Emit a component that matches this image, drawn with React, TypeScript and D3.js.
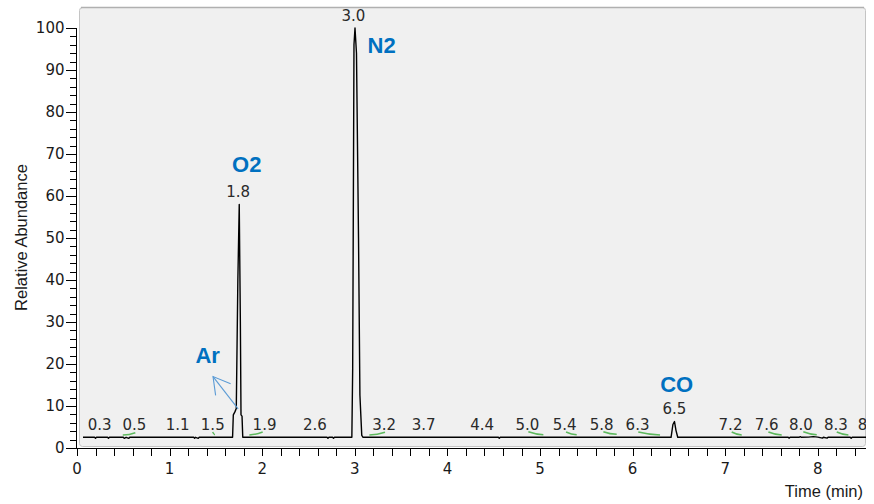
import React from 'react';
import * as d3 from 'd3';

// ---- data ----
const traceTimes = [
  0.065, 0.19, 0.2, 0.21, 0.33, 0.34, 0.35, 0.5, 0.51, 0.53, 0.56, 0.57,
  1.26, 1.27, 1.28, 1.31, 1.32,
  1.68, 1.688, 1.705, 1.72, 1.737, 1.752, 1.764, 1.771, 1.782, 1.79,
  2.7, 2.71, 2.72, 2.76, 2.77, 2.78,
  2.968, 2.977, 2.991, 3.002, 3.018, 3.04, 3.055, 3.075, 3.089,
  4.55, 4.56, 4.57,
  6.415, 6.435, 6.452, 6.468, 6.487,
  7.68, 7.69, 7.7, 7.8, 7.81, 7.82, 7.9, 7.95, 8.0, 8.05, 8.06, 8.1, 8.11,
  8.35, 8.36, 8.37, 8.52,
];
const traceValues = [
  2.55, 2.55, 2.3, 2.55, 2.55, 2.3, 2.55, 2.55, 2.3, 2.55, 2.3, 2.55,
  2.55, 2.3, 2.55, 2.3, 2.55,
  2.55, 7.9, 8.6, 9.4, 40, 58, 30, 7.9, 7.6, 2.55,
  2.55, 2.3, 2.55, 2.55, 2.3, 2.55,
  2.55, 19, 96, 100, 94, 50, 12.6, 3.0, 2.55,
  2.55, 2.3, 2.55,
  2.55, 5.6, 6.3, 4.2, 2.55,
  2.55, 2.35, 2.55, 2.55, 2.7, 2.55, 2.6, 2.7, 2.6, 2.35, 2.55, 2.35, 2.55,
  2.55, 2.3, 2.55, 2.55,
];

const peakLabelTexts = ['0.3', '0.5', '1.1', '1.5', '1.8', '1.9', '2.6', '3.0', '3.2', '3.7', '4.4', '5.0', '5.4', '5.8', '6.3', '6.5', '7.2', '7.6', '8.0', '8.3', '8.6'];
const peakLabelTimes = [0.245, 0.62, 1.087, 1.466, 1.74, 2.025, 2.57, 2.985, 3.317, 3.744, 4.374, 4.863, 5.267, 5.666, 6.053, 6.452, 7.057, 7.448, 7.816, 8.194, 8.56];
const peakLabelValues = [2.55, 2.55, 2.55, 2.55, 58, 2.55, 2.55, 100, 2.55, 2.55, 2.55, 2.55, 2.55, 2.55, 2.55, 6.3, 2.55, 2.55, 2.55, 2.55, 2.55];

// integration marks (green): start/end time and abundance
const integStartTimes = [0.494, 1.465, 1.861, 3.157, 4.874, 5.281, 5.684, 6.061, 7.07, 7.466, 7.843, 8.204];
const integEndTimes = [0.63, 1.49, 2.005, 3.326, 5.036, 5.396, 5.828, 6.296, 7.178, 7.61, 7.988, 8.33];
const integStartValues = [3.1, 3.81, 3.1, 3.1, 3.88, 3.81, 3.88, 3.81, 3.81, 3.81, 3.88, 3.81];
const integEndValues = [3.64, 3.17, 3.81, 3.74, 3.17, 3.17, 3.26, 3.1, 3.1, 3.1, 3.17, 3.1];

const compoundNames = ['Ar', 'O2', 'N2', 'CO'];
const compoundTimes = [1.411, 1.833, 3.29, 6.476];
const compoundValues = [20.2, 65.6, 94.0, 13.3];

// Ar arrow (tail on trace -> head)
const arrowTailTime = 1.74;
const arrowTailValue = 9.3;
const arrowHeadTime = 1.469;
const arrowHeadValue = 17.0;

const xTickValues = [0, 1, 2, 3, 4, 5, 6, 7, 8];
const yTickValues = [0, 10, 20, 30, 40, 50, 60, 70, 80, 90, 100];

const W = 874;
const H = 504;

export default function App() {
  const x = d3.scaleLinear().domain([0, 8.52]).range([77, 866]);
  const y = d3.scaleLinear().domain([0, 100]).range([448, 28]);

  const pts: [number, number][] = traceTimes.map((t, i) => [t, traceValues[i]]);
  const line = d3.line<[number, number]>().x((d) => x(d[0])).y((d) => y(d[1]));

  const xMinor = d3.range(0, 8.52 + 1e-9, 0.2);
  const yMinor = d3.range(0, 100.001, 2);

  // arrow geometry
  const hx = x(arrowHeadTime), hy = y(arrowHeadValue);
  const tx = x(arrowTailTime), ty = y(arrowTailValue);
  const ang = Math.atan2(ty - hy, tx - hx);
  const wl = 19;
  const w1 = [hx + wl * Math.cos(ang - Math.PI / 6), hy + wl * Math.sin(ang - Math.PI / 6)];
  const w2 = [hx + wl * Math.cos(ang + Math.PI / 6), hy + wl * Math.sin(ang + Math.PI / 6)];

  const tickFont = 'DejaVu Sans, Verdana, sans-serif';
  const titleFont = 'Liberation Sans, Arial, sans-serif';

  return (
    <svg width={W} height={H} style={{ position: 'absolute', left: 0, top: 0, background: '#fff' }}>
      <defs>
        <clipPath id="plotclip">
          <rect x={79} y={7} width={787} height={440} />
        </clipPath>
      </defs>
      {/* panel */}
      <rect x={79.5} y={7.5} width={786} height={439} rx={3} fill="#f0f0f0" stroke="#c4c4c4" strokeWidth={1} />
      <line x1={81} x2={864} y1={7.5} y2={7.5} stroke="#b0b0b0" strokeWidth={1.5} />

      {/* integration marks */}
      <g clipPath="url(#plotclip)">
        {integStartTimes.map((t0, i) => {
          const x0 = x(t0), y0 = y(integStartValues[i]);
          const x1 = x(integEndTimes[i]), y1 = y(integEndValues[i]);
          const mx = (x0 + x1) / 2, my = (y0 + y1) / 2 + 1.2;
          return (
            <path key={'g' + i} d={`M${x0},${y0} Q${mx},${my} ${x1},${y1}`} fill="none" stroke="#5cb85c" strokeWidth={1.5} />
          );
        })}
        {/* trace */}
        <path d={line(pts) || ''} fill="none" stroke="#000" strokeWidth={1.4} strokeLinejoin="round" />
        {/* peak labels */}
        {peakLabelTexts.map((s, i) => (
          <text key={'p' + i} x={x(peakLabelTimes[i])} y={y(peakLabelValues[i]) - 7.5} textAnchor="middle"
            fontFamily={tickFont} fontSize={15} fill="#2a2a2a">{s}</text>
        ))}
      </g>

      {/* compound labels */}
      {compoundNames.map((n, i) => (
        <text key={'c' + i} x={x(compoundTimes[i])} y={y(compoundValues[i])} textAnchor="middle"
          fontFamily={titleFont} fontWeight="bold" fontSize={22} fill="#0070c0">{n}</text>
      ))}

      {/* Ar arrow */}
      <g stroke="#5b9bd5" strokeWidth={1.1} fill="none">
        <line x1={tx} y1={ty} x2={hx} y2={hy} />
        <polyline points={`${w1[0]},${w1[1]} ${hx},${hy} ${w2[0]},${w2[1]}`} />
      </g>

      {/* x axis */}
      <g stroke="#000" strokeWidth={1}>
        <line x1={76.5} x2={866} y1={448.5} y2={448.5} />
        {xMinor.map((t, i) => (
          <line key={'xm' + i} x1={Math.round(x(t)) + 0.5} x2={Math.round(x(t)) + 0.5} y1={448.5} y2={456} />
        ))}
      </g>
      {xTickValues.map((t) => (
        <text key={'xt' + t} x={x(t)} y={474} textAnchor="middle" fontFamily={tickFont} fontSize={15} fill="#1a1a1a">{t}</text>
      ))}
      <text x={863} y={496.5} textAnchor="end" fontFamily={titleFont} fontSize={16.5} fill="#1a1a1a">Time (min)</text>

      {/* y axis */}
      <g stroke="#000" strokeWidth={1}>
        <line x1={76.5} x2={76.5} y1={y(100)} y2={448.5} />
        {yMinor.map((v, i) => {
          const major = Math.abs(v % 10) < 1e-6;
          const yy = Math.round(y(v)) + 0.5;
          return <line key={'ym' + i} x1={major ? 66 : 70} x2={77} y1={yy} y2={yy} />;
        })}
      </g>
      {yTickValues.map((v) => (
        <text key={'yt' + v} x={64.5} y={y(v) + 5.4} textAnchor="end" fontFamily={tickFont} fontSize={15} fill="#1a1a1a">{v}</text>
      ))}
      <text transform="translate(26.5,237.5) rotate(-90)" textAnchor="middle" fontFamily={titleFont} fontSize={16.5} fill="#1a1a1a">Relative Abundance</text>
    </svg>
  );
}
